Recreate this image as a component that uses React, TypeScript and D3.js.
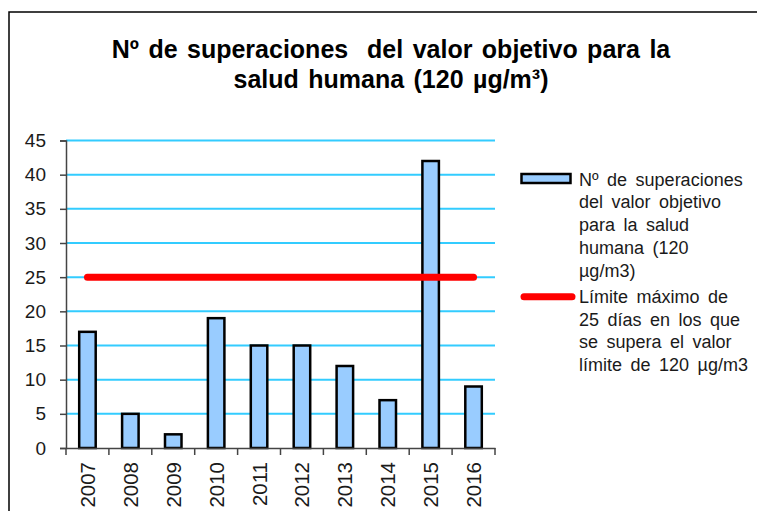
import * as d3 from "d3";
import * as React from "react";
import { useEffect, useRef } from "react";

const years = ["2007", "2008", "2009", "2010", "2011", "2012", "2013", "2014", "2015", "2016"];
const exceedances = [17, 5, 2, 19, 15, 15, 12, 7, 42, 9];
const limitValue = 25;
const yTicks = [0, 5, 10, 15, 20, 25, 30, 35, 40, 45];
const titleLines = ["Nº de superaciones  del valor objetivo para la", "salud humana (120 µg/m³)"];
const barLegend = ["Nº de superaciones", "del valor objetivo", "para la salud", "humana (120", "µg/m3)"];
const lineLegend = ["Límite máximo de", "25 días en los que", "se supera el valor", "límite de 120 µg/m3"];

const W = 757;
const H = 511;
const FONT = "'Liberation Sans', Arial, sans-serif";

export default function App() {
  const ref = useRef<SVGSVGElement>(null);

  useEffect(() => {
    const svg = d3.select(ref.current);
    svg.selectAll("*").remove();

    const plot = { left: 66, right: 495, top: 140.5, bottom: 448 };

    const x = d3.scaleBand().domain(years).range([plot.left, plot.right]).paddingInner(0).paddingOuter(0);
    const y = d3.scaleLinear().domain([0, 45]).range([plot.bottom, plot.top]);
    const barW = 16.5;

    // outer frame (only left and top visible)
    svg
      .append("path")
      .attr("d", `M9,${H} L9,12 L${W},12`)
      .attr("fill", "none")
      .attr("stroke", "#000")
      .attr("stroke-width", 1.5);

    // title
    const title = svg
      .append("text")
      .attr("text-anchor", "middle")
      .attr("font-family", FONT)
      .attr("font-weight", "bold")
      .attr("font-size", 25)
      .attr("word-spacing", 2.5)
      .style("white-space", "pre")
      .attr("fill", "#000");
    titleLines.forEach((t, i) => {
      title
        .append("tspan")
        .attr("x", 391)
        .attr("y", 58 + i * 30)
        .text(t);
    });

    // gridlines
    svg
      .append("g")
      .selectAll("line")
      .data(yTicks.filter((d) => d > 0))
      .join("line")
      .attr("x1", plot.left)
      .attr("x2", plot.right)
      .attr("y1", (d) => y(d))
      .attr("y2", (d) => y(d))
      .attr("stroke", "#33ccff")
      .attr("stroke-width", 2);

    // y axis
    const yAxis = svg
      .append("g")
      .attr("transform", `translate(${plot.left},0)`)
      .call(d3.axisLeft(y).tickValues(yTicks).tickSize(6).tickPadding(14));
    yAxis.select(".domain").attr("stroke", "#444").attr("stroke-width", 1.5);
    yAxis.selectAll(".tick line").attr("stroke", "#444").attr("stroke-width", 1.5);
    yAxis
      .selectAll(".tick text")
      .attr("font-family", FONT)
      .attr("font-size", 19)
      .attr("fill", "#1a1a1a");

    // bars
    svg
      .append("g")
      .selectAll("rect")
      .data(exceedances)
      .join("rect")
      .attr("x", (d, i) => x(years[i])! + x.bandwidth() / 2 - barW / 2)
      .attr("y", (d) => y(d))
      .attr("width", barW)
      .attr("height", (d) => y(0) - y(d))
      .attr("fill", "#99ccff")
      .attr("stroke", "#000")
      .attr("stroke-width", 2.5);

    // x axis
    const xAxis = svg
      .append("g")
      .attr("transform", `translate(0,${plot.bottom})`)
      .call(d3.axisBottom(x).tickSize(0).tickFormat(() => ""));
    xAxis.select(".domain").attr("stroke", "#444").attr("stroke-width", 1.5);
    xAxis.selectAll(".tick").remove();
    xAxis
      .selectAll("line.sep")
      .data(d3.range(years.length + 1))
      .join("line")
      .attr("class", "sep")
      .attr("x1", (i) => plot.left + i * x.step())
      .attr("x2", (i) => plot.left + i * x.step())
      .attr("y1", 0)
      .attr("y2", 7)
      .attr("stroke", "#444")
      .attr("stroke-width", 1.5);

    svg
      .append("g")
      .selectAll("text")
      .data(years)
      .join("text")
      .attr("transform", (d) => `translate(${x(d)! + x.bandwidth() / 2 + 7.5},${plot.bottom + 14}) rotate(-90)`)
      .attr("text-anchor", "end")
      .attr("font-family", FONT)
      .attr("font-size", 20.5)
      .attr("fill", "#1a1a1a")
      .text((d) => d);

    // limit line
    const line = d3
      .line<string>()
      .x((d) => x(d)! + x.bandwidth() / 2)
      .y(() => y(limitValue));
    svg
      .append("path")
      .attr("d", line([years[0], years[years.length - 1]]))
      .attr("fill", "none")
      .attr("stroke", "#ff0000")
      .attr("stroke-width", 7)
      .attr("stroke-linecap", "round");

    // legend
    const lg = svg
      .append("g")
      .attr("font-family", FONT)
      .attr("font-size", 18)
      .attr("word-spacing", 3.5)
      .attr("fill", "#1a1a1a");
    lg.append("rect")
      .attr("x", 521.5)
      .attr("y", 174)
      .attr("width", 49)
      .attr("height", 9)
      .attr("fill", "#99ccff")
      .attr("stroke", "#000")
      .attr("stroke-width", 2.5);
    lg.append("line")
      .attr("x1", 524)
      .attr("x2", 572)
      .attr("y1", 296.7)
      .attr("y2", 296.7)
      .attr("stroke", "#ff0000")
      .attr("stroke-width", 7)
      .attr("stroke-linecap", "round");
    barLegend.forEach((t, i) => {
      lg.append("text").attr("x", 579).attr("y", 185.5 + i * 22.75).text(t);
    });
    lineLegend.forEach((t, i) => {
      lg.append("text").attr("x", 579).attr("y", 303 + i * 22.5).text(t);
    });
  }, []);

  return (
    <svg
      ref={ref}
      width={W}
      height={H}
      style={{ position: "absolute", left: 0, top: 0, background: "#fff" }}
    />
  );
}
